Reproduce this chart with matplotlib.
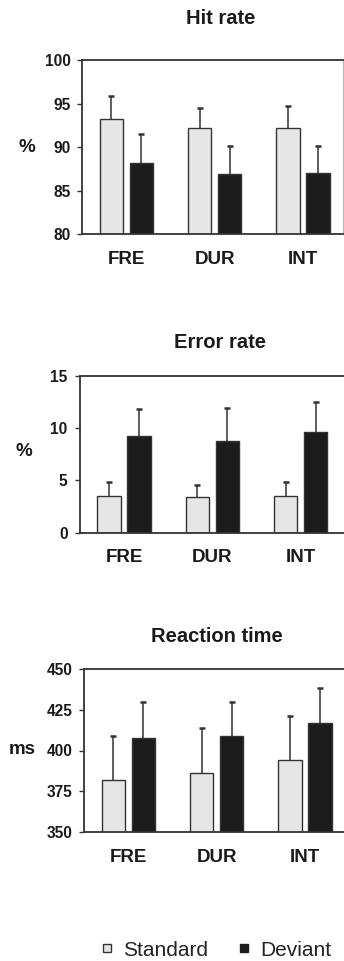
#!/usr/bin/env python3
"""Hit rate, error rate and reaction time for standard vs deviant trials."""
import matplotlib
matplotlib.use("Agg")
import matplotlib.pyplot as plt  # noqa: E402
from matplotlib.lines import Line2D  # noqa: E402
import numpy as np  # noqa: E402

plt.rcParams["font.family"] = ["Liberation Sans", "DejaVu Sans"]

conditions = ["FRE", "DUR", "INT"]

hit_std = [93.3, 92.2, 92.2]
hit_std_err = [2.6, 2.3, 2.6]
hit_dev = [88.2, 86.9, 87.0]
hit_dev_err = [3.3, 3.3, 3.2]

err_std = [3.5, 3.4, 3.5]
err_std_err = [1.35, 1.2, 1.4]
err_dev = [9.3, 8.8, 9.6]
err_dev_err = [2.5, 3.1, 2.9]

rt_std = [382.1, 386.2, 394.2]
rt_std_err = [27.0, 27.6, 27.0]
rt_dev = [407.5, 409.1, 416.7]
rt_dev_err = [22.3, 20.7, 21.4]

W, H = 344, 961
STD_FILL = "#e6e6e6"
DEV_FILL = "#1c1c1c"
EDGE = "#333333"
UNIT = 88.3  # px per category group

# (title, ylabel, std, std_err, dev, dev_err, ylim, yticks,
#  left, right, top, bottom, title_xy, ylabel_xy, tick pad)
panels = [
    ("Hit rate", "%", hit_std, hit_std_err, hit_dev, hit_dev_err,
     (80, 100), [80, 85, 90, 95, 100],
     82.3, 343, 60.3, 234.3, (221, 19), (27, 148), 4.5),
    ("Error rate", "%", err_std, err_std_err, err_dev, err_dev_err,
     (0, 15), [0, 5, 10, 15],
     80, 347, 376, 532.7, (220, 342.5), (24, 452), 5.5),
    ("Reaction time", "ms", rt_std, rt_std_err, rt_dev, rt_dev_err,
     (350, 450), [350, 375, 400, 425, 450],
     84.3, 347, 669, 832, (217, 636), (22.5, 750), 4.8),
]

fig = plt.figure(figsize=(W / 100, H / 100), dpi=100)
fig.patch.set_facecolor("white")

x = np.arange(len(conditions)) + 0.5
bw = 0.265
off = 0.17


def up_err(ax, xs, ys, es):
    # upper-only error bars: stem from bar top plus a short cap
    ys = np.asarray(ys)
    tops = ys + np.asarray(es)
    ax.vlines(xs, ys, tops, color=EDGE, lw=1.1, zorder=1)
    ax.plot(xs, tops, ls="none", marker="_", ms=5, mew=1.8, color=EDGE,
            zorder=1)


for (title, ylab, s, se, d, de, ylim, yt, l, r, t, b,
     txy, lxy, ypad) in panels:
    ax = fig.add_axes([l / W, 1 - b / H, (r - l) / W, (b - t) / H])
    ax.bar(x - off, s, bw, color=STD_FILL, edgecolor=EDGE, lw=1.0, zorder=2)
    ax.bar(x + off, d, bw, color=DEV_FILL, edgecolor=EDGE, lw=1.0, zorder=2)
    up_err(ax, x - off, s, se)
    up_err(ax, x + off, d, de)
    ax.set_ylim(*ylim)
    ax.set_xlim(0, (r - l) / UNIT)
    ax.set_yticks(yt)
    ax.set_xticks(x)
    ax.set_xticklabels(conditions, fontsize=13.5, fontweight="bold",
                       color="#1a1a1a")
    ax.tick_params(axis="x", length=0, pad=12)
    ax.tick_params(axis="y", length=3.5, width=1.0, color=EDGE, pad=ypad,
                   labelsize=11.2, labelcolor="#1a1a1a")
    for lab in ax.get_yticklabels():
        lab.set_fontweight("bold")
    for sp in ("left", "bottom", "top"):
        ax.spines[sp].set_color(EDGE)
        ax.spines[sp].set_linewidth(1.3)
    ax.spines["right"].set_color("#bbbbbb")
    ax.spines["right"].set_linewidth(1.0)
    fig.text(txy[0] / W, 1 - txy[1] / H, title, ha="center", va="center",
             fontsize=14.5, fontweight="bold", color="#1a1a1a")
    fig.text(lxy[0] / W, 1 - lxy[1] / H, ylab, ha="center", va="center",
             fontsize=13.5, fontweight="bold", color="#1a1a1a")

handles = [
    Line2D([0], [0], marker="s", ls="none", markersize=6,
           markerfacecolor=STD_FILL, markeredgecolor=EDGE, markeredgewidth=1),
    Line2D([0], [0], marker="s", ls="none", markersize=6,
           markerfacecolor=DEV_FILL, markeredgecolor=DEV_FILL),
]
fig.legend(handles, ["Standard", "Deviant"], ncol=2, frameon=False,
           loc="center", bbox_to_anchor=(216 / W, 1 - 950 / H),
           fontsize=15, handlelength=0.6, handletextpad=0.5,
           columnspacing=1.4, labelcolor="#222222")

fig.savefig("out.png", dpi=100, facecolor="white")
